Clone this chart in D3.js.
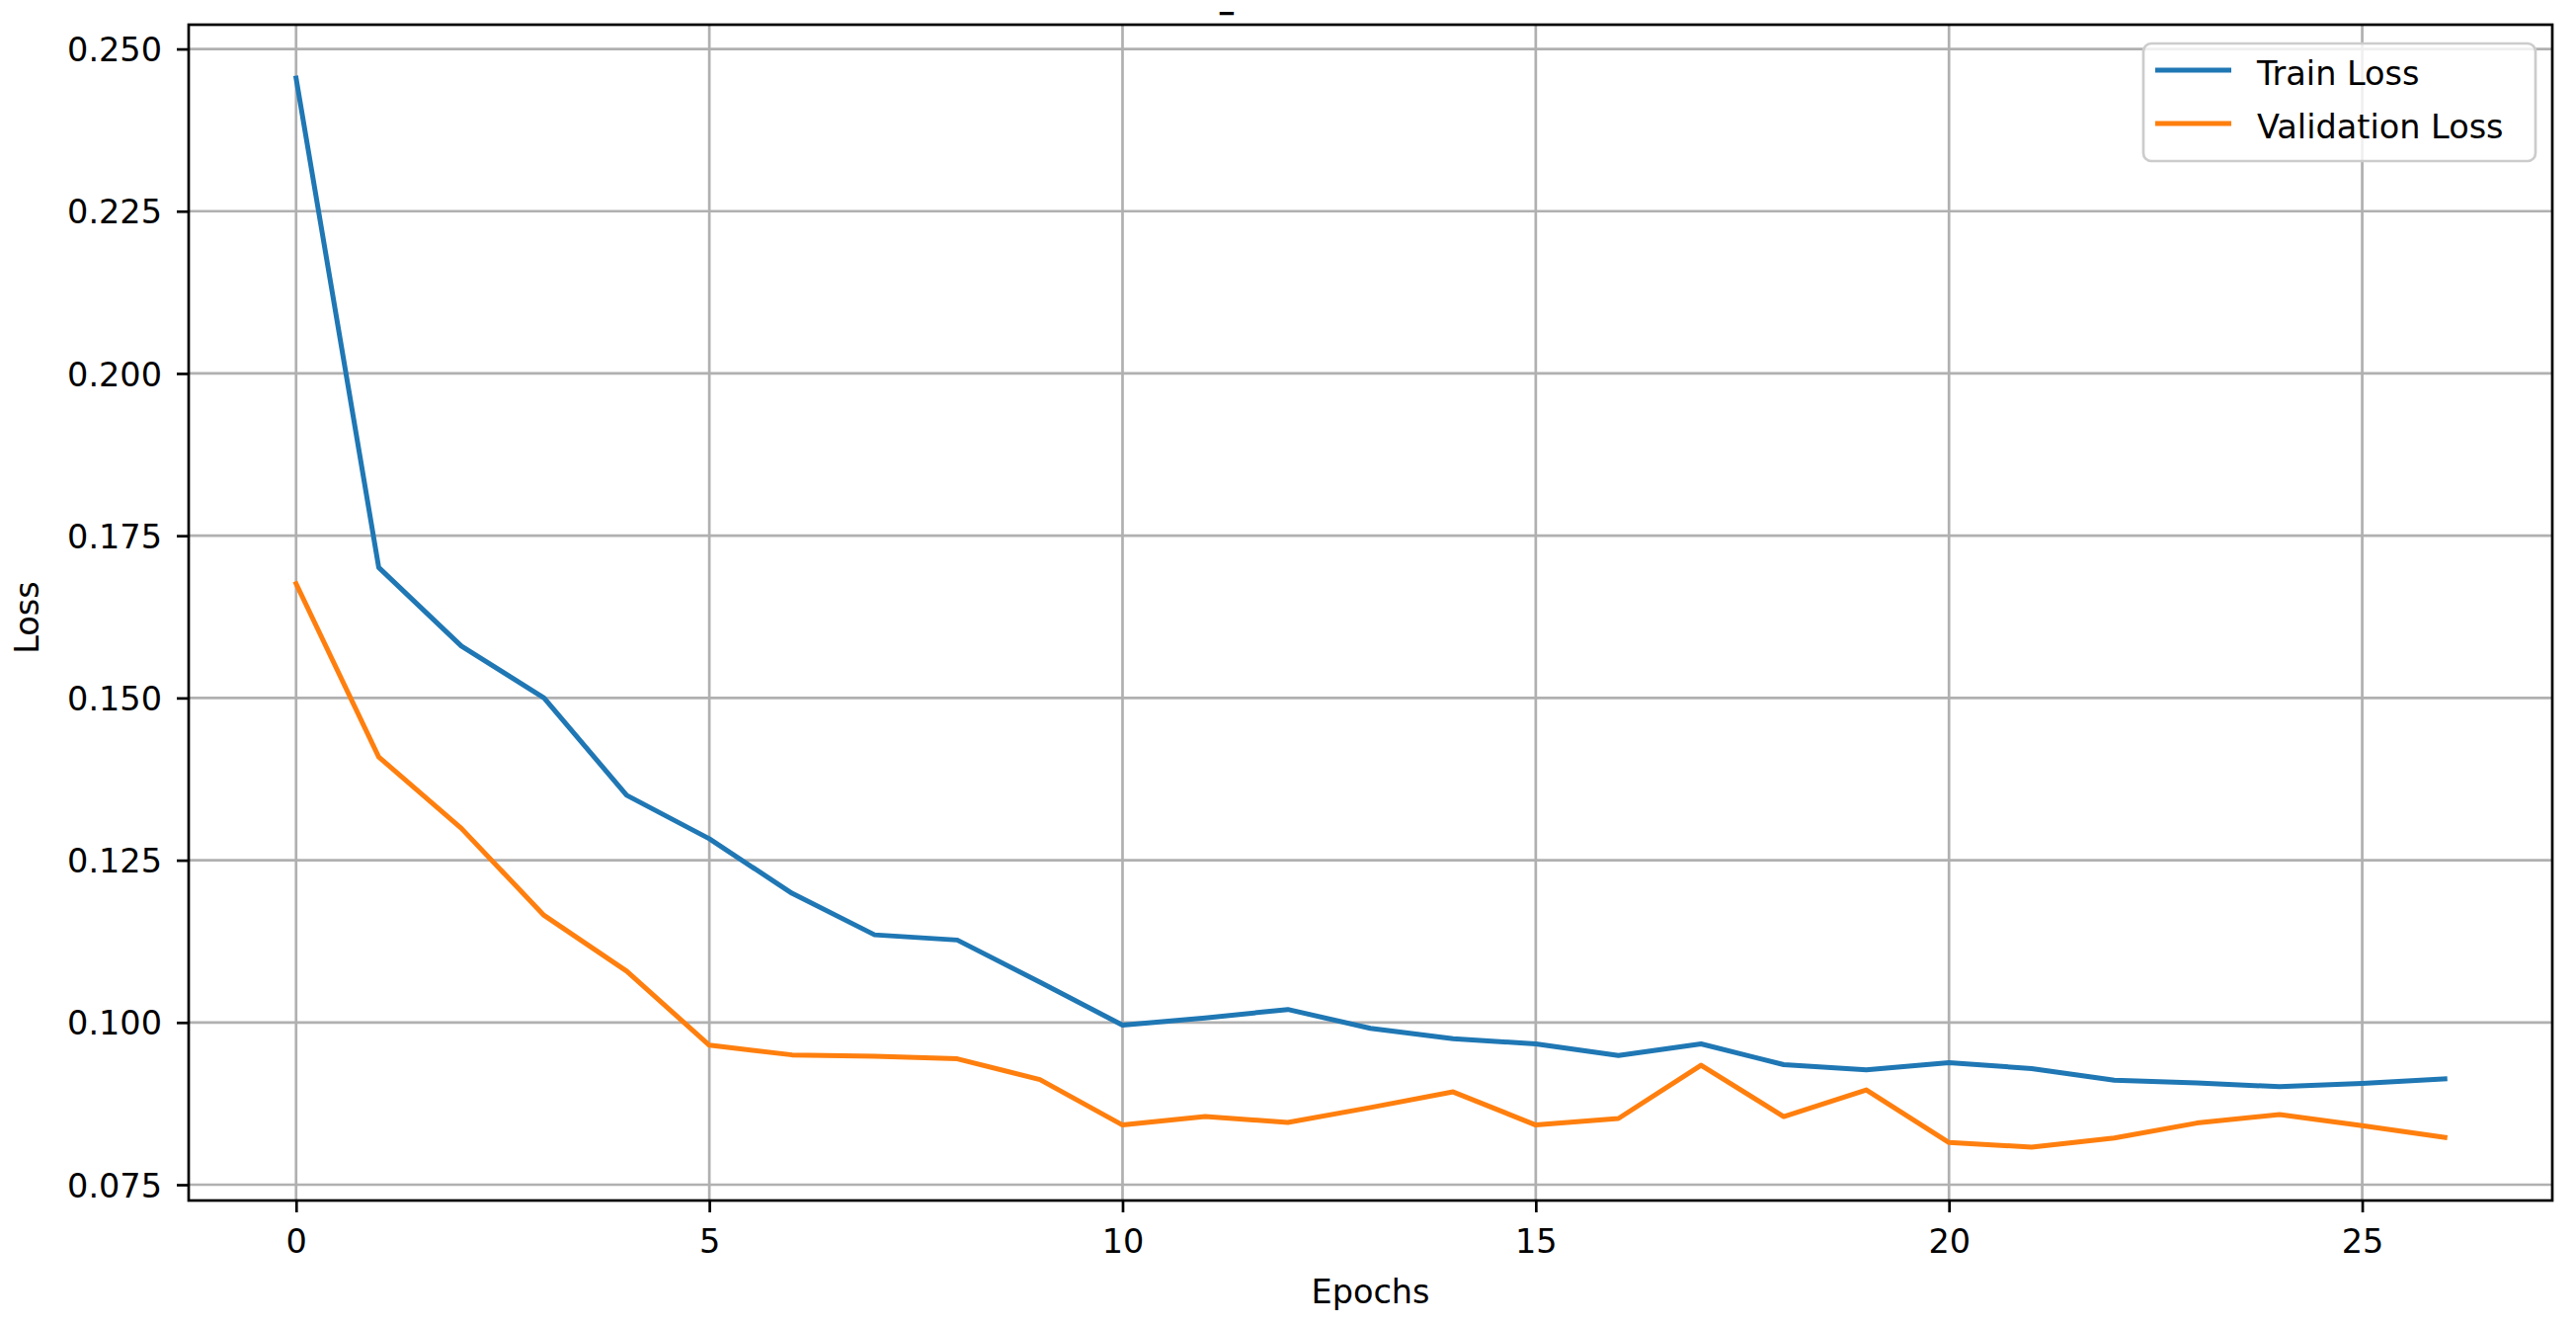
<!DOCTYPE html>
<html>
<head>
<meta charset="utf-8">
<script src="https://cdn.jsdelivr.net/npm/d3@7"></script>
<style>
  html, body { margin: 0; padding: 0; background: #ffffff; }
  svg { display: block; font-family: "DejaVu Sans", sans-serif; }
</style>
</head>
<body>
<svg id="chart" width="2608" height="1341"></svg>
<script>
// ---- data ----
const epochs = d3.range(0, 27);
const trainLoss = [0.2455, 0.1701, 0.1580, 0.1500, 0.1350, 0.1283, 0.1199, 0.1135, 0.1127, 0.1062,
                   0.0996, 0.1007, 0.1020, 0.0991, 0.0975, 0.0967, 0.0949, 0.0967, 0.0935, 0.0927,
                   0.0938, 0.0929, 0.0911, 0.0907, 0.0901, 0.0906, 0.0913];
const valLoss   = [0.1676, 0.1409, 0.1299, 0.1165, 0.1079, 0.0965, 0.0950, 0.0948, 0.0944, 0.0912,
                   0.0842, 0.0855, 0.0846, 0.0869, 0.0893, 0.0842, 0.0852, 0.0934, 0.0855, 0.0896,
                   0.0815, 0.0808, 0.0822, 0.0845, 0.0858, 0.0841, 0.0823];
const xTicks = [0, 5, 10, 15, 20, 25];
const yTicks = [0.075, 0.100, 0.125, 0.150, 0.175, 0.200, 0.225, 0.250];
const seriesNames = ["Train Loss", "Validation Loss"];
const seriesColors = ["#1f77b4", "#ff7f0e"];
const titleText = "-";
const xLabel = "Epochs";
const yLabel = "Loss";

// ---- layout ----
const L = 191, R = 2584, T = 25, B = 1215;
const fs = 33.5;

const svg = d3.select("#chart");

// domains with matplotlib-like 5% margins
const xMin = d3.min(epochs), xMax = d3.max(epochs);
const xPad = (xMax - xMin) * 0.05;
const allY = trainLoss.concat(valLoss);
const yMin = d3.min(allY), yMax = d3.max(allY);
const yPad = (yMax - yMin) * 0.05;

const x = d3.scaleLinear().domain([xMin - xPad, xMax + xPad]).range([L, R]);
const y = d3.scaleLinear().domain([yMin - yPad, yMax + yPad]).range([B, T]);

// grid
const grid = svg.append("g");
grid.selectAll("line.gx").data(xTicks).enter().append("line")
  .attr("x1", d => x(d)).attr("x2", d => x(d)).attr("y1", T).attr("y2", B)
  .attr("stroke", "#b0b0b0").attr("stroke-width", 2.7);
grid.selectAll("line.gy").data(yTicks).enter().append("line")
  .attr("y1", d => y(d)).attr("y2", d => y(d)).attr("x1", L).attr("x2", R)
  .attr("stroke", "#b0b0b0").attr("stroke-width", 2.7);

// lines
const line = d3.line().x((d, i) => x(epochs[i])).y(d => y(d));
[trainLoss, valLoss].forEach((s, k) => {
  svg.append("path").datum(s)
    .attr("d", line)
    .attr("fill", "none")
    .attr("stroke", seriesColors[k])
    .attr("stroke-width", 5)
    .attr("stroke-linejoin", "round")
    .attr("stroke-linecap", "square");
});

// axes
const xAxis = d3.axisBottom(x).tickValues(xTicks).tickFormat(d3.format("d"))
  .tickSizeInner(12).tickSizeOuter(0).tickPadding(10);
const gx = svg.append("g").attr("transform", `translate(0,${B})`).call(xAxis);
gx.select(".domain").remove();
gx.selectAll(".tick line").attr("stroke", "#000").attr("stroke-width", 2.7);
gx.selectAll(".tick text").attr("font-size", fs).attr("fill", "#000")
  .attr("font-family", "DejaVu Sans").attr("dy", null).attr("y", 53);

const yAxis = d3.axisLeft(y).tickValues(yTicks).tickFormat(d3.format(".3f"))
  .tickSizeInner(12).tickSizeOuter(0).tickPadding(15);
const gy = svg.append("g").attr("transform", `translate(${L},0)`).call(yAxis);
gy.select(".domain").remove();
gy.selectAll(".tick line").attr("stroke", "#000").attr("stroke-width", 2.7);
gy.selectAll(".tick text").attr("font-size", fs).attr("fill", "#000")
  .attr("font-family", "DejaVu Sans").attr("dy", "0.36em");

// frame
svg.append("rect").attr("x", L).attr("y", T).attr("width", R - L).attr("height", B - T)
  .attr("fill", "none").attr("stroke", "#000").attr("stroke-width", 2.7);

// labels
svg.append("text").attr("x", (L + R) / 2).attr("y", 1319).attr("text-anchor", "middle")
  .attr("font-size", fs).attr("fill", "#000").text(xLabel);
svg.append("text").attr("transform", "translate(39,625) rotate(-90)").attr("text-anchor", "middle")
  .attr("font-size", fs).attr("fill", "#000").text(yLabel);
svg.append("text").attr("transform", "translate(1242,17.5) scale(2.2,1)").attr("text-anchor", "middle")
  .attr("font-size", 18).attr("fill", "#000").attr("stroke", "#000").attr("stroke-width", 1.8)
  .text(titleText);

// legend
const lg = svg.append("g");
lg.append("rect").attr("x", 2170).attr("y", 44).attr("width", 397).attr("height", 119)
  .attr("rx", 8).attr("ry", 8)
  .attr("fill", "rgba(255,255,255,0.8)").attr("stroke", "#cccccc").attr("stroke-width", 2.7);
const legY = [71, 125];
seriesNames.forEach((n, i) => {
  lg.append("line").attr("x1", 2182).attr("x2", 2259).attr("y1", legY[i]).attr("y2", legY[i])
    .attr("stroke", seriesColors[i]).attr("stroke-width", 5);
  lg.append("text").attr("x", 2285).attr("y", legY[i] + 15).attr("font-size", fs)
    .attr("fill", "#000").text(n);
});
</script>
</body>
</html>
